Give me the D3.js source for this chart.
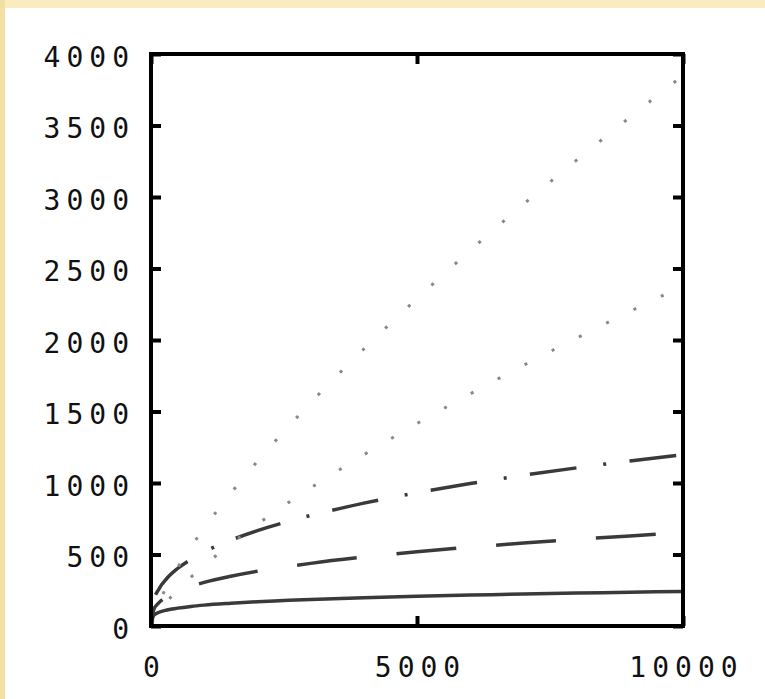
<!DOCTYPE html>
<html>
<head>
<meta charset="utf-8">
<script src="https://cdn.jsdelivr.net/npm/d3@7"></script>
<style>
  html, body { margin: 0; padding: 0; background: #fff; overflow: hidden; }
  svg { display: block; }
</style>
</head>
<body>
<div class="canvas"></div>
<script>
// values, one array per curve
var xs       = [0, 50, 150, 300, 500, 750, 1000, 1500, 2000, 2500, 3000, 4000, 5000, 6000, 7000, 8000, 9000, 10000];
var solid    = [0, 75, 96, 112, 125, 137, 146, 159, 170, 178, 186, 198, 208, 216, 224, 230, 236, 242];
var longDash = [0, 113, 163, 205, 243, 277, 305, 348, 383, 412, 438, 482, 519, 551, 580, 606, 630, 652];
var dashDot  = [0, 173, 259, 334, 402, 466, 518, 600, 667, 723, 773, 859, 932, 996, 1054, 1106, 1154, 1198];
var dotsLow  = [0, 45, 102, 172, 252, 341, 423, 574, 712, 842, 965, 1197, 1416, 1623, 1823, 2013, 2199, 2380];
var dotsHigh = [0, 72, 165, 278, 407, 552, 685, 928, 1151, 1361, 1561, 1937, 2290, 2626, 2949, 3258, 3557, 3850];
var xTicks = [0, 5000, 10000];
var yTicks = [0, 500, 1000, 1500, 2000, 2500, 3000, 3500, 4000];

var width = 765,
    height = 699;

var svg = d3.select(".canvas").append("svg")
    .attr("width", width)
    .attr("height", height);

// white sheet with a parchment strip along the top and left edges
svg.append("rect")
   .attr("width", width)
   .attr("height", height)
   .attr("fill", "#fff");
svg.append("rect")
   .attr("width", width)
   .attr("height", 8)
   .attr("fill", "#fbecc0");
svg.append("rect")
   .attr("width", 5)
   .attr("height", height)
   .attr("fill", "#f3dea4");

var x = d3.scaleLinear().domain([0, 10000]).range([151, 683]);
var y = d3.scaleLinear().domain([0, 4000]).range([626, 54]);

var line = d3.line()
    .x(function (d) { return x(d[0]); })
    .y(function (d) { return y(d[1]); })
    .curve(d3.curveMonotoneX);

var series = [
    {values: solid,    stroke: "#3a3a3a", width: 3.5, dash: null,             offset: 0},
    {values: longDash, stroke: "#3a3a3a", width: 3.5, dash: "60,40",          offset: 30},
    {values: dashDot,  stroke: "#3a3a3a", width: 3.5, dash: "47,27,3,23.5",   offset: 69},
    {values: dotsLow,  stroke: "#888",    width: 3,   dash: "3,27.5",         offset: 28},
    {values: dotsHigh, stroke: "#888",    width: 3,   dash: "3,28.6",         offset: 29}
];

series.forEach(function (s) {
    var pts = xs.map(function (xv, i) { return [xv, s.values[i]]; });
    svg.append("path")
       .attr("class", "curve")
       .attr("d", line(pts))
       .attr("fill", "none")
       .attr("stroke", s.stroke)
       .attr("stroke-width", s.width)
       .attr("stroke-dasharray", s.dash)
       .attr("stroke-dashoffset", s.offset);
});

function styleAxis(g) {
    g.select(".domain").remove();
    g.selectAll(".tick line")
     .attr("stroke", "#000")
     .attr("stroke-width", 4);
    g.selectAll("text")
     .attr("fill", "#111")
     .style("font-family", "'DejaVu Sans Mono', monospace")
     .style("font-size", "28px")
     .style("letter-spacing", "6px");
}

var fmt = d3.format("d");

svg.append("g")
   .attr("transform", "translate(151,0)")
   .call(d3.axisLeft(y).tickValues(yTicks).tickFormat(fmt).tickSize(-10).tickPadding(16))
   .call(styleAxis)
   .selectAll("text").attr("dy", 12);

svg.append("g")
   .attr("transform", "translate(0,626)")
   .call(d3.axisBottom(x).tickValues(xTicks).tickFormat(fmt).tickSize(-10).tickPadding(51))
   .call(styleAxis)
   .selectAll("text").attr("dy", 0).attr("dx", 3);

svg.append("g")
   .attr("transform", "translate(0,54)")
   .call(d3.axisTop(x).tickValues(xTicks).tickSize(-10).tickFormat(""))
   .call(styleAxis);

svg.append("g")
   .attr("transform", "translate(683,0)")
   .call(d3.axisRight(y).tickValues(yTicks).tickSize(-10).tickFormat(""))
   .call(styleAxis);

// frame
svg.append("rect")
   .attr("x", x(0))
   .attr("y", y(4000))
   .attr("width", x(10000) - x(0))
   .attr("height", y(0) - y(4000))
   .attr("fill", "none")
   .attr("stroke", "#000")
   .attr("stroke-width", 4);
</script>
</body>
</html>
